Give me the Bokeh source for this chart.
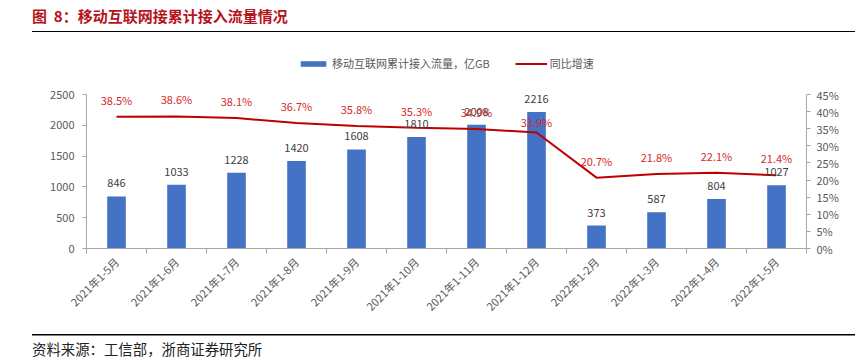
import math
from bokeh.plotting import figure
from bokeh.models import (ColumnDataSource, LinearAxis, Range1d, FixedTicker,
                          PrintfTickFormatter, Legend, LegendItem, Div)
from bokeh.layouts import column
from bokeh.embed import file_html
from bokeh.resources import INLINE
from bokeh.core.properties import value

categories = ["2021年1-5月", "2021年1-6月", "2021年1-7月", "2021年1-8月", "2021年1-9月",
              "2021年1-10月", "2021年1-11月", "2021年1-12月", "2022年1-2月", "2022年1-3月",
              "2022年1-4月", "2022年1-5月"]
traffic = [846, 1033, 1228, 1420, 1608, 1810, 2008, 2216, 373, 587, 804, 1027]
growth = [38.5, 38.6, 38.1, 36.7, 35.8, 35.3, 34.9, 33.9, 20.7, 21.8, 22.1, 21.4]
left_ticks = [0, 500, 1000, 1500, 2000, 2500]
right_ticks = [0, 5, 10, 15, 20, 25, 30, 35, 40, 45]

FONT = "Noto Sans CJK SC"
GRAY = "#595959"
AXIS = "#A6A6A6"
BLUE = "#4472C4"
RED = "#C00000"
LABEL_RED = "#D42A2A"

# layout (pixels)
FIG_W, FIG_H = 864, 298
FRAME_TOP, FRAME_BOTTOM = 8, 82          # borders above / below the frame
AXIS_PX = 154                            # height of the axis span (0 .. max tick)
FRAME_PX = FIG_H - FRAME_TOP - FRAME_BOTTOM
head = FRAME_PX / AXIS_PX                # room above the top tick for the legend

xs = list(range(len(categories)))
pct_offsets = [-17] * len(categories)
pct_offsets[7] = -10
src = ColumnDataSource(dict(
    x=xs, traffic=traffic, growth=growth,
    traffic_label=[str(v) for v in traffic],
    growth_label=[f"{g:.1f}%" for g in growth],
    pct_off=pct_offsets,
))

p = figure(width=FIG_W, height=FIG_H, x_range=Range1d(-0.5, len(categories) - 0.5),
           y_range=Range1d(left_ticks[0], left_ticks[-1] * head),
           output_backend="svg", toolbar_location=None,
           min_border_left=86, min_border_right=58,
           min_border_top=FRAME_TOP, min_border_bottom=FRAME_BOTTOM)
p.outline_line_color = None
p.grid.visible = False
p.background_fill_color = "white"
p.border_fill_color = "white"

p.extra_y_ranges = {"pct": Range1d(right_ticks[0], right_ticks[-1] * head)}

bars = p.vbar(x="x", top="traffic", width=0.31, source=src, fill_color=BLUE, line_color=None)
line = p.line(x="x", y="growth", y_range_name="pct", source=src, line_color=RED, line_width=2)

p.text(x="x", y="traffic", text="traffic_label", source=src, y_offset=-13,
       text_align="center", text_baseline="middle", text_font=value(FONT),
       text_font_size="11px", text_color="#404040")
p.text(x="x", y="growth", text="growth_label", source=src, y_offset="pct_off",
       y_range_name="pct", text_align="center", text_baseline="middle",
       text_font=value(FONT), text_font_size="11px", text_color=LABEL_RED)

# x axis
xa = p.xaxis[0]
xa.ticker = FixedTicker(ticks=xs, minor_ticks=[i + 0.5 for i in range(-1, len(categories))])
xa.major_label_overrides = {i: c for i, c in enumerate(categories)}
xa.major_label_orientation = math.pi / 4
xa.major_tick_line_color = None
xa.minor_tick_in = 0
xa.minor_tick_out = 5
xa.minor_tick_line_color = AXIS
xa.axis_line_color = AXIS
xa.major_label_text_font = FONT
xa.major_label_text_font_size = "11px"
xa.major_label_text_color = GRAY
xa.major_label_standoff = 5

# left axis
ya = p.yaxis[0]
ya.ticker = FixedTicker(ticks=left_ticks)
ya.bounds = (left_ticks[0], left_ticks[-1])
ya.major_tick_in = 0
ya.major_tick_out = 4
ya.major_tick_line_color = AXIS
ya.minor_tick_line_color = None
ya.axis_line_color = AXIS
ya.major_label_text_font = FONT
ya.major_label_text_font_size = "11px"
ya.major_label_text_color = GRAY
ya.major_label_standoff = 8

# right axis
ra = LinearAxis(y_range_name="pct", ticker=FixedTicker(ticks=right_ticks),
                formatter=PrintfTickFormatter(format="%d%%"),
                bounds=(right_ticks[0], right_ticks[-1]))
ra.major_tick_in = 0
ra.major_tick_out = 4
ra.major_tick_line_color = AXIS
ra.minor_tick_line_color = None
ra.axis_line_color = AXIS
ra.major_label_text_font = FONT
ra.major_label_text_font_size = "11px"
ra.major_label_text_color = GRAY
ra.major_label_standoff = 6
p.add_layout(ra, "right")

legend = Legend(items=[LegendItem(label="移动互联网累计接入流量，亿GB", renderers=[bars]),
                       LegendItem(label="同比增速", renderers=[line])],
                orientation="horizontal", location=(211, FRAME_PX - 31),
                glyph_width=32, glyph_height=7, label_height=14,
                label_text_font=FONT, label_text_font_size="11px", label_text_color=GRAY,
                border_line_color=None, background_fill_alpha=0,
                spacing=25, label_standoff=3, padding=0, margin=0)
p.add_layout(legend, "center")

title_div = Div(
    text=('<div style="box-sizing:border-box;margin-left:32px;width:823px;height:32px;'
          'padding-top:8px;border-bottom:1.5px solid #000;'
          'font-family:\'Noto Sans CJK SC\';font-weight:bold;font-size:15px;line-height:16px;'
          'color:#B5141C;white-space:pre">图  8：移动互联网接累计接入流量情况</div>'),
    width=FIG_W, height=32, margin=(0, 0, 0, 0))
src_div = Div(
    text=('<div style="box-sizing:border-box;margin-left:32px;width:823px;height:30px;'
          'padding-top:4px;background:linear-gradient(#000,#000) 0 4px / 100% 1.5px no-repeat;'
          'font-family:\'Noto Sans CJK SC\';font-size:14.4px;line-height:16px;'
          'color:#222;white-space:nowrap">'
          '<div style="height:7px"></div>资料来源：工信部，浙商证券研究所</div>'),
    width=FIG_W, height=30, margin=(0, 0, 0, 0), styles={"z-index": "10"})

layout = column(title_div, p, src_div, spacing=0)

with open("out.html", "w") as f:
    f.write(file_html(layout, INLINE))
